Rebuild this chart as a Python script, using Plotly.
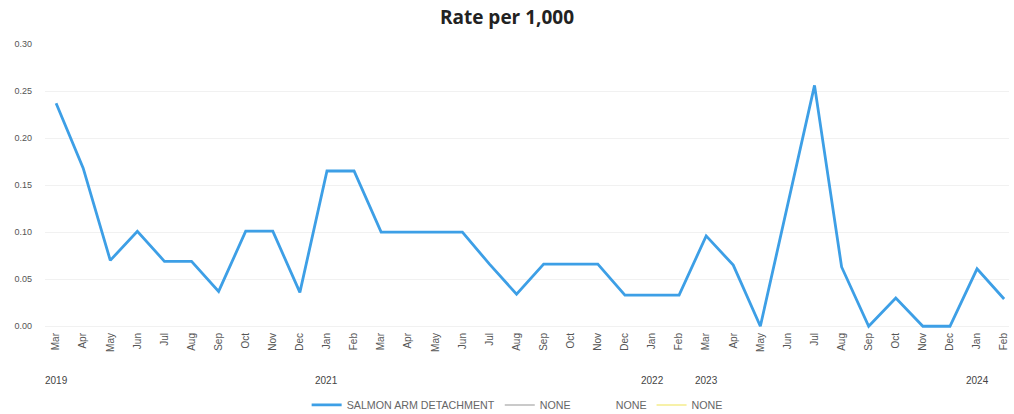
import plotly.graph_objects as go

months = ["Mar", "Apr", "May", "Jun", "Jul", "Aug", "Sep", "Oct", "Nov", "Dec", "Jan", "Feb",
          "Mar", "Apr", "May", "Jun", "Jul", "Aug", "Sep", "Oct", "Nov", "Dec", "Jan", "Feb",
          "Mar", "Apr", "May", "Jun", "Jul", "Aug", "Sep", "Oct", "Nov", "Dec", "Jan", "Feb"]
positions = list(range(len(months)))

salmon_arm = [0.237, 0.168, 0.070, 0.101, 0.069, 0.069, 0.037, 0.101, 0.101, 0.036, 0.165, 0.165,
              0.100, 0.100, 0.100, 0.100, 0.066, 0.034, 0.066, 0.066, 0.066, 0.033, 0.033, 0.033,
              0.096, 0.065, 0.000, 0.128, 0.256, 0.063, 0.000, 0.030, 0.000, 0.000, 0.061, 0.029]

none_series = [None] * len(months)

year_labels = ["2019", "2021", "2022", "2023", "2024"]
year_positions = [0, 10, 22, 24, 34]

y_ticks = [0.00, 0.05, 0.10, 0.15, 0.20, 0.25, 0.30]

fig = go.Figure()
fig.add_trace(go.Scatter(x=positions, y=salmon_arm, mode="lines", name="SALMON ARM DETACHMENT",
                         line=dict(color="#3d9fe6", width=2.8)))
fig.add_trace(go.Scatter(x=positions, y=none_series, mode="lines", name="NONE",
                         line=dict(color="#b8b8b8", width=1.5)))
fig.add_trace(go.Scatter(x=positions, y=none_series, mode="lines", name="NONE",
                         line=dict(color="rgba(255,255,255,0)", width=1.5)))
fig.add_trace(go.Scatter(x=positions, y=none_series, mode="lines", name="NONE",
                         line=dict(color="#f5ec8c", width=1.5)))

for lbl, pos in zip(year_labels, year_positions):
    fig.add_annotation(x=pos, y=0, xref="x", yref="paper", yshift=-58, text=lbl,
                       showarrow=False, font=dict(size=10, color="#444444", family="Liberation Sans"))

fig.update_layout(
    width=1014, height=414,
    margin=dict(l=45, r=5, t=44, b=84),
    paper_bgcolor="white", plot_bgcolor="white",
    title=dict(text="<b>Rate per 1,000</b>", x=0.5, xanchor="center", y=0.958, yanchor="middle",
               font=dict(family="Open Sans", size=19, color="#222222")),
    showlegend=True,
    legend=dict(orientation="h", x=0.51, xanchor="center", xref="container",
                y=0.022, yanchor="middle", yref="container",
                font=dict(size=10.7, color="#666666", family="Liberation Sans"),
                itemwidth=30, tracegroupgap=0),
    xaxis=dict(tickmode="array", tickvals=positions, ticktext=months, tickangle=-90,
               range=[-0.41, 35.18], showgrid=False, zeroline=False, showline=False,
               automargin=False,
               tickfont=dict(size=10, color="#555555", family="Liberation Sans"), ticks=""),
    yaxis=dict(range=[-0.004, 0.30], tickvals=y_ticks, tickformat=".2f",
               showgrid=True, gridcolor="#f1f1f1", gridwidth=1, zeroline=False, showline=False,
               automargin=False,
               tickfont=dict(size=9, color="#555555", family="Liberation Sans"), ticks="",
               ticklabelstandoff=12),
)

fig.write_html("out.html", config={"displayModeBar": False},
               post_script="document.body.style.margin='0';document.body.style.overflow='hidden';")
